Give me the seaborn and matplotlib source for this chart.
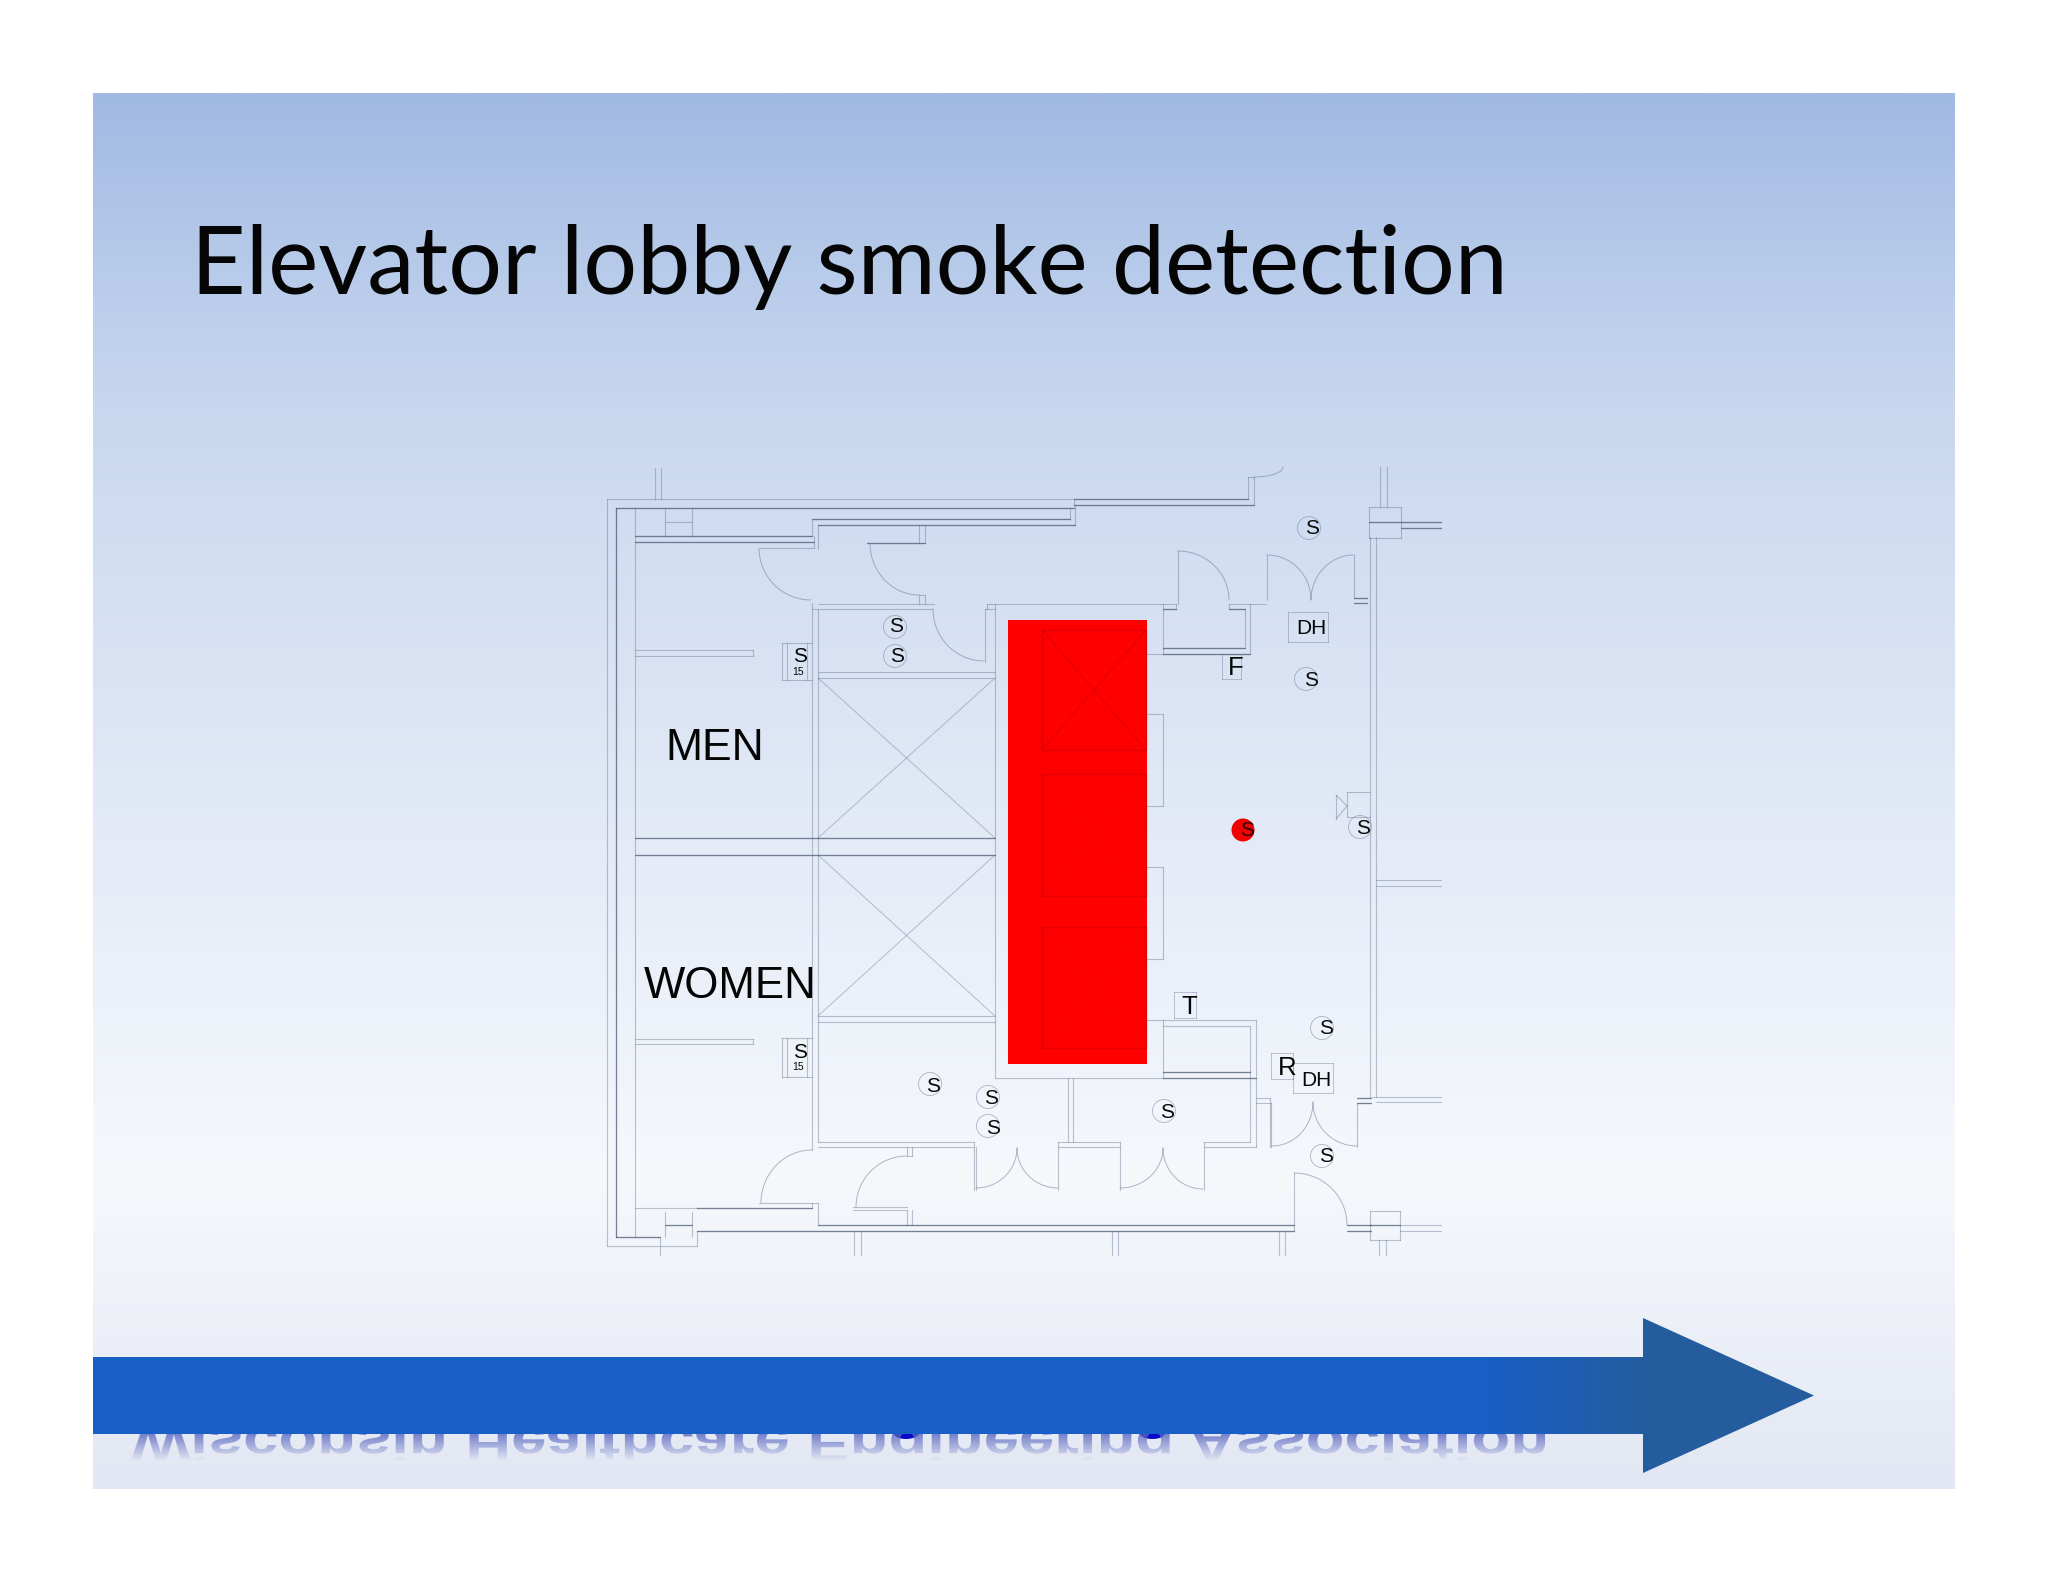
import matplotlib
matplotlib.use("Agg")
import matplotlib.pyplot as plt
from matplotlib.colors import LinearSegmentedColormap
from matplotlib.font_manager import FontProperties
from matplotlib.patches import Circle, PathPatch, Polygon, Rectangle
from matplotlib.path import Path
from matplotlib.textpath import TextPath
import numpy as np
import pandas as pd
import seaborn as sns

sns.set_theme(style="white")

# slide text
TITLE = "Elevator lobby smoke detection"
FOOTER = "Wisconsin Healthcare Engineering Association"

# background stops: (y position, colour)
BG_STOPS = [(93, "#a1bae3"), (400, "#c8d7ef"), (800, "#e2e9f6"), (1180, "#f6f8fc"), (1489, "#e2e7f3")]
BAR_STOPS = [(93, "#1860c8"), (1480, "#1860c8"), (1650, "#245c9e"), (1814, "#245c9e")]

# walls, every row is x0, y0, x1, y1
WALLS_DARK = [
    (616, 508, 1074, 508), (635, 536, 812, 536), (635, 542, 814, 542), (812, 519, 1070, 519),
    (818, 525, 1075, 525), (867, 543, 925, 543), (1074, 499, 1248, 499), (1074, 505, 1254, 505),
    (635, 838, 995, 838), (635, 855, 995, 855), (1163, 648, 1245, 648), (1163, 654, 1250, 654),
    (1163, 609, 1176, 609), (1229, 609, 1245, 609), (1354, 598, 1367, 598), (1354, 603, 1367, 603),
    (1401, 522, 1441, 522), (1401, 528, 1441, 528), (1369, 522, 1401, 522), (1163, 1072, 1250, 1072),
    (1163, 1078, 1256, 1078), (1357, 1098, 1371, 1098), (1357, 1103, 1371, 1103),
    (697, 1208, 812, 1208), (818, 1225, 1294, 1225), (697, 1231, 1294, 1231), (616, 508, 616, 1237),
    (1347, 1225, 1371, 1225), (1347, 1231, 1371, 1231), (1370, 1225, 1400, 1225),
    (665, 1225, 692, 1225), (616, 1237, 660, 1237),
]
WALLS_LIGHT = [
    (607, 499, 1074, 499), (607, 499, 607, 1246), (635, 508, 635, 1237), (1074, 499, 1074, 505),
    (1070, 508, 1070, 519), (1075, 505, 1075, 525), (812, 519, 812, 536), (818, 525, 818, 549),
    (760, 548, 814, 548), (814, 536, 814, 548), (665, 508, 665, 536), (692, 508, 692, 536),
    (665, 522, 692, 522), (655, 468, 655, 499), (661, 468, 661, 499), (1248, 477, 1248, 499),
    (1254, 477, 1254, 505), (1248, 477, 1254, 477), (919, 525, 919, 543), (925, 525, 925, 543),
    (919, 595, 919, 604), (925, 595, 925, 604), (919, 595, 925, 595), (812, 603, 812, 1150),
    (818, 609, 818, 1142), (818, 604, 934, 604), (812, 609, 933, 609), (985, 609, 985, 662),
    (987, 604, 987, 609), (985, 609, 995, 609), (995, 604, 995, 1078), (987, 604, 1163, 604),
    (818, 672, 995, 672), (818, 678, 995, 678), (818, 1016, 995, 1016), (818, 1022, 995, 1022),
    (635, 650, 753, 650), (635, 656, 753, 656), (753, 650, 753, 656),
    (635, 1039, 753, 1039), (635, 1044, 753, 1044), (753, 1039, 753, 1044),
    (782, 643, 812, 643), (782, 680, 812, 680), (782, 643, 782, 680), (787, 643, 787, 680), (807, 643, 807, 680),
    (782, 1038, 812, 1038), (782, 1077, 812, 1077), (782, 1038, 782, 1077), (787, 1038, 787, 1077), (807, 1038, 807, 1077),
    (1163, 604, 1163, 654), (1163, 604, 1176, 604), (1176, 604, 1176, 609), (1178, 551, 1178, 604),
    (1229, 604, 1250, 604), (1229, 604, 1229, 609), (1245, 609, 1245, 648), (1250, 604, 1250, 654),
    (1147, 654, 1163, 654), (1250, 604, 1266, 604), (1267, 555, 1267, 600), (1354, 555, 1354, 598),
    (1370, 537, 1370, 1098), (1376, 537, 1376, 1097), (1376, 880, 1441, 880), (1376, 886, 1441, 886),
    (1372, 1097, 1441, 1097), (1376, 1102, 1441, 1102), (1369, 507, 1401, 507), (1369, 538, 1401, 538),
    (1369, 507, 1369, 538), (1401, 507, 1401, 538), (1380, 467, 1380, 507), (1387, 467, 1387, 507),
    (1147, 714, 1163, 714), (1163, 714, 1163, 806), (1147, 806, 1163, 806),
    (1147, 867, 1163, 867), (1163, 867, 1163, 959), (1147, 959, 1163, 959),
    (1347, 792, 1370, 792), (1347, 817, 1370, 817), (1347, 792, 1347, 817),
    (1336, 795, 1347, 806), (1347, 806, 1336, 819), (1336, 795, 1336, 819),
    (1163, 1020, 1163, 1078), (1147, 1020, 1256, 1020), (1163, 1026, 1250, 1026),
    (1250, 1026, 1250, 1142), (1256, 1020, 1256, 1147), (995, 1078, 1163, 1078),
    (1068, 1078, 1068, 1142), (1073, 1078, 1073, 1142), (1058, 1142, 1120, 1142), (1058, 1147, 1120, 1147),
    (1058, 1142, 1058, 1190), (1120, 1142, 1120, 1190), (1204, 1142, 1250, 1142), (1204, 1147, 1256, 1147),
    (1204, 1142, 1204, 1190), (974, 1142, 974, 1190), (976, 1147, 976, 1190), (818, 1142, 974, 1142),
    (818, 1147, 974, 1147), (907, 1147, 907, 1156), (912, 1147, 912, 1156), (907, 1156, 912, 1156),
    (759, 1203, 812, 1203), (635, 1208, 697, 1208), (812, 1203, 812, 1208), (812, 1203, 818, 1203),
    (818, 1203, 818, 1225), (697, 1231, 697, 1246), (660, 1237, 660, 1255), (607, 1246, 697, 1246),
    (665, 1212, 665, 1237), (692, 1212, 692, 1237), (853, 1207, 907, 1207), (853, 1210, 907, 1210),
    (907, 1210, 907, 1225), (912, 1210, 912, 1225), (854, 1231, 854, 1255), (861, 1231, 861, 1255),
    (1112, 1231, 1112, 1255), (1118, 1231, 1118, 1255), (1279, 1231, 1279, 1255), (1285, 1231, 1285, 1255),
    (1379, 1240, 1379, 1255), (1386, 1240, 1386, 1255), (1294, 1173, 1294, 1231),
    (1370, 1211, 1400, 1211), (1370, 1240, 1400, 1240), (1370, 1211, 1370, 1240), (1400, 1211, 1400, 1240),
    (1400, 1225, 1441, 1225), (1400, 1231, 1441, 1231), (1256, 1098, 1270, 1098), (1256, 1103, 1271, 1103),
    (1270, 1098, 1270, 1147), (1271, 1103, 1271, 1147), (1357, 1103, 1357, 1147),
]
ELEVATOR_X = [(818, 678, 995, 838), (995, 678, 818, 838), (818, 855, 995, 1016), (995, 855, 818, 1016)]
LABEL_BOXES = [
    (1288, 612, 1328, 642), (1222, 654, 1241, 679), (1174, 992, 1196, 1018),
    (1271, 1053, 1293, 1079), (1293, 1063, 1333, 1093),
]

# door swings: corner x, y, start x, y, end x, y
DOOR_ARCS = [
    (811, 548, 759, 548, 811, 600), (919, 543, 870, 543, 919, 595), (984, 609, 933, 609, 984, 661),
    (1254, 467, 1254, 477, 1283, 467), (1178, 600, 1178, 551, 1229, 600), (1267, 600, 1267, 555, 1311, 600),
    (1354, 600, 1354, 555, 1311, 600), (976, 1148, 976, 1188, 1017, 1148), (1058, 1148, 1058, 1188, 1017, 1148),
    (1120, 1148, 1120, 1188, 1163, 1148), (1203, 1148, 1203, 1189, 1163, 1148), (812, 1203, 761, 1203, 812, 1150),
    (907, 1207, 856, 1207, 907, 1156), (1294, 1225, 1294, 1173, 1347, 1225), (1272, 1102, 1272, 1146, 1313, 1102),
    (1357, 1102, 1357, 1146, 1313, 1102),
]

# smoke detectors: circle x, y and letter x, y
DETECTORS = [
    (895, 627, 896, 627), (895, 656, 897, 657), (1309, 528, 1312, 529), (1306, 679, 1311, 680),
    (1360, 827, 1363, 828), (930, 1084, 933, 1086), (988, 1097, 991, 1099), (988, 1126, 993, 1128),
    (1322, 1028, 1326, 1029), (1322, 1156, 1326, 1157), (1164, 1111, 1167, 1113),
]
RED_DETECTOR = (1243, 830, 1247, 831)

# room and device labels: text, x, y, size
LABELS = [
    ("MEN", 715, 748, 32), ("WOMEN", 730, 986, 31.5), ("DH", 1311, 629, 15), ("F", 1236, 668, 18.5),
    ("T", 1189, 1007, 18.5), ("R", 1287, 1068, 18.5), ("DH", 1316, 1080, 15),
    ("S", 800, 657, 15), ("15", 798, 672, 7.5), ("S", 800, 1053, 15), ("15", 798, 1067, 7.5),
]

# elevator zone
RED_ZONE = (1008, 620, 1147, 1064)
CARS = [(1042, 630, 1146, 750), (1042, 774, 1146, 896), (1042, 927, 1146, 1048)]

# arrow
BAR_TOP, BAR_BOTTOM = 1357, 1434
BAR_LEFT, HEAD_X, TIP_X = 93, 1643, 1814
HEAD_TOP, HEAD_BOTTOM = 1318, 1473
SLIDE = (93, 93, 1955, 1489)


def segments_frame(rows):
    # one row per end point, seaborn joins them by seg
    recs = []
    for i, (x0, y0, x1, y1) in enumerate(rows):
        recs.append({"seg": i, "x": x0, "y": y0})
        recs.append({"seg": i, "x": x1, "y": y1})
    return pd.DataFrame(recs)


def arcs_frame(rows):
    t = np.linspace(0, np.pi / 2, 24)
    recs = []
    for i, (cx, cy, sx, sy, ex, ey) in enumerate(rows):
        xs = cx + (sx - cx) * np.cos(t) + (ex - cx) * np.sin(t)
        ys = cy + (sy - cy) * np.cos(t) + (ey - cy) * np.sin(t)
        recs.append(pd.DataFrame({"seg": i, "x": xs, "y": ys}))
    return pd.concat(recs)


def draw_lines(ax, df, color, lw, alpha, z):
    sns.lineplot(data=df, x="x", y="y", units="seg", estimator=None, sort=False,
                 color=color, linewidth=lw, alpha=alpha, zorder=z, ax=ax, legend=False)


def box_rows(rows):
    out = []
    for x0, y0, x1, y1 in rows:
        out += [(x0, y0, x1, y0), (x1, y0, x1, y1), (x1, y1, x0, y1), (x0, y1, x0, y0)]
    return out


fig = plt.figure(figsize=(20.48, 15.82), dpi=100, facecolor="white")
ax = fig.add_axes([0, 0, 1, 1])

# slide background
y0, y1 = SLIDE[1], SLIDE[3]
bg_cmap = LinearSegmentedColormap.from_list("bg", [((p - y0) / (y1 - y0), c) for p, c in BG_STOPS])
ax.imshow(np.linspace(0, 1, 512).reshape(-1, 1), cmap=bg_cmap, aspect="auto", zorder=0,
          extent=(SLIDE[0], SLIDE[2], y1, y0))

# floor plan
draw_lines(ax, segments_frame(WALLS_LIGHT), "#64748f", 0.8, 0.42, 2)
draw_lines(ax, segments_frame(WALLS_DARK), "#46546e", 0.95, 0.72, 2)
draw_lines(ax, segments_frame(ELEVATOR_X), "#64748f", 0.7, 0.42, 2)
draw_lines(ax, segments_frame(box_rows(LABEL_BOXES)), "#64748f", 0.7, 0.4, 2)
draw_lines(ax, arcs_frame(DOOR_ARCS), "#64748f", 0.7, 0.5, 2)

# red overlay on the elevators
x0r, y0r, x1r, y1r = RED_ZONE
ax.add_patch(Rectangle((x0r, y0r), x1r - x0r, y1r - y0r, facecolor="#ff0000", edgecolor="none", zorder=3))
draw_lines(ax, segments_frame(box_rows(CARS)), "#c80000", 1.0, 0.5, 4)
for n, (x0c, y0c, x1c, y1c) in enumerate(CARS):
    # the first car's cross reads clearly, the others barely
    draw_lines(ax, segments_frame([(x0c, y0c, x1c, y1c), (x1c, y0c, x0c, y1c)]),
               "#c80000", 0.7, 0.6 if n == 0 else 0.2, 4)

for cx, cy, tx, ty in DETECTORS:
    ax.add_patch(Circle((cx, cy), 11.5, facecolor="none", edgecolor="#64748f", linewidth=0.6, alpha=0.5, zorder=4))
    ax.text(tx, ty, "S", fontsize=15, family="Liberation Sans", color="#0a0a0a",
            ha="center", va="center", zorder=5)
cx, cy, tx, ty = RED_DETECTOR
ax.add_patch(Circle((cx, cy), 11.5, facecolor="#f00000", edgecolor="none", zorder=4))
ax.text(tx, ty, "S", fontsize=15, family="Liberation Sans", color="#300000", ha="center", va="center", zorder=5)

for txt, x, y, size in LABELS:
    ax.text(x, y, txt, fontsize=size, family="Liberation Sans", color="#050505",
            ha="center", va="center", zorder=5)

ax.text(191, 294, TITLE, fontsize=68.3, family="Lato", color="#050505", ha="left", va="baseline", zorder=5)

# footer text sits behind the arrow, only its reflection shows
fp = FontProperties(family="Liberation Sans", weight="bold")
raw = TextPath((0, 0), FOOTER, size=100, prop=fp)
ext = raw.get_extents()
size_px = 100 * (1545 - 131) / ext.width
ax.text(131, 1426, FOOTER, fontsize=size_px * 0.72, family="Liberation Sans", weight="bold",
        color="#0808c8", ha="left", va="baseline", zorder=6)
k = size_px / 100
verts = np.column_stack([131 + (raw.vertices[:, 0] - ext.x0) * k, 1428 + raw.vertices[:, 1] * k * 0.75])
mirror = PathPatch(Path(verts, raw.codes), facecolor="none", edgecolor="none", transform=ax.transData)
ax.add_patch(mirror)
fade = np.zeros((64, 2, 4))
fade[..., :3] = matplotlib.colors.to_rgb("#5a68c0")
fade[..., 3] = np.linspace(0.8, 0, 64).reshape(-1, 1)
im = ax.imshow(fade, aspect="auto", extent=(125, 1550, 1461, 1434), zorder=6, interpolation="bilinear")
im.set_clip_path(mirror)

# big arrow
arrow_xy = [(BAR_LEFT, BAR_TOP), (HEAD_X, BAR_TOP), (HEAD_X, HEAD_TOP), (TIP_X, (BAR_TOP + BAR_BOTTOM) / 2),
            (HEAD_X, HEAD_BOTTOM), (HEAD_X, BAR_BOTTOM), (BAR_LEFT, BAR_BOTTOM)]
arrow = Polygon(arrow_xy, closed=True, facecolor="none", edgecolor="none", transform=ax.transData)
ax.add_patch(arrow)
bar_cmap = LinearSegmentedColormap.from_list(
    "bar", [((p - BAR_LEFT) / (TIP_X - BAR_LEFT), c) for p, c in BAR_STOPS])
bar_im = ax.imshow(np.linspace(0, 1, 512).reshape(1, -1), cmap=bar_cmap, aspect="auto", zorder=7,
                   extent=(BAR_LEFT, TIP_X, HEAD_BOTTOM, HEAD_TOP))
bar_im.set_clip_path(arrow)

ax.set_xlim(0, 2048)
ax.set_ylim(1582, 0)
ax.axis("off")
fig.savefig("out.png", dpi=100, facecolor="white")
